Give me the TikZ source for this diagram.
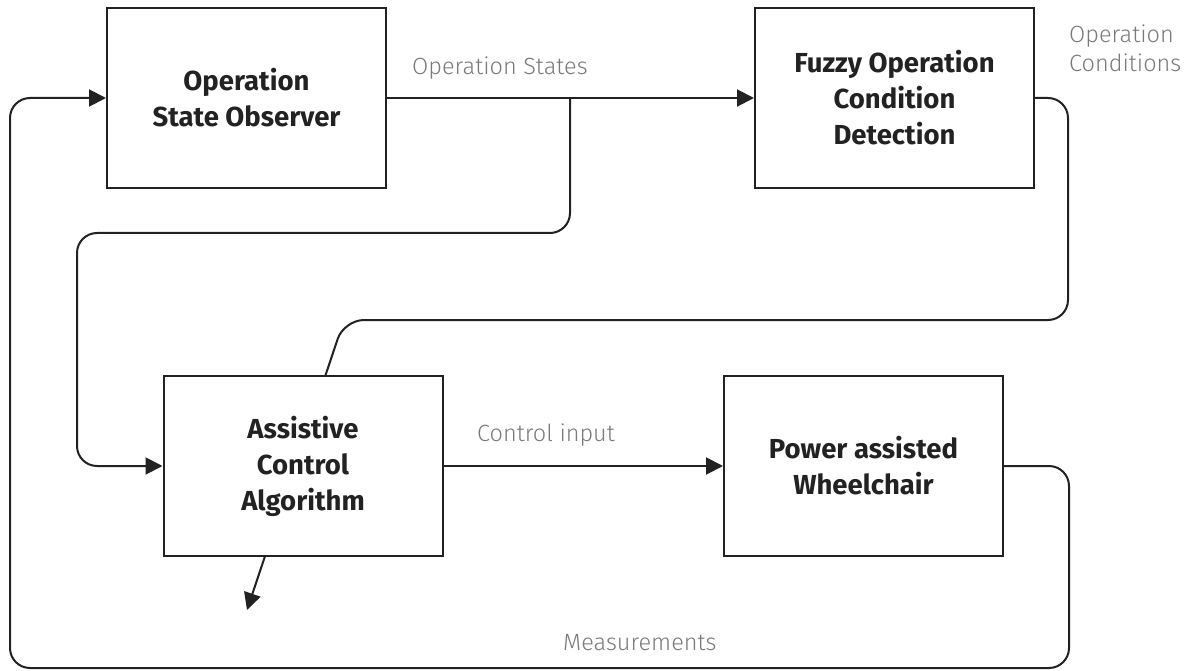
\documentclass[tikz,border=0pt]{standalone}
\usepackage{fontspec}
\setmainfont{Fira Sans}
\newfontfamily\labelfont{Fira Sans Light}
\usetikzlibrary{arrows.meta,backgrounds}
\definecolor{ink}{HTML}{222222}
\definecolor{labelgray}{HTML}{7a7a7a}
\tikzset{
  block/.style={draw=ink, line width=2pt, fill=white, minimum width=279pt,
    minimum height=180pt, inner sep=0pt, align=center, text=ink,
    font=\fontsize{27.5}{36}\selectfont\bfseries},
  conn/.style={draw=ink, line width=2pt, rounded corners=20pt},
  tip/.style={-{Triangle[length=17pt,width=17pt]}},
  sig/.style={text=labelgray, font=\labelfont\fontsize{23.5}{29}\selectfont, inner sep=0pt}
}
\begin{document}
\begin{tikzpicture}[x=1pt,y=-1pt]
\useasboundingbox (0,0) rectangle (1192,671);

% processing blocks
\node[block] (obs) at (246.5,98) {Operation\\State Observer};
\node[block] (fuz) at (894.5,98) {Fuzzy Operation\\Condition\\Detection};
\node[block] (acs) at (303,466) {Assistive\\Control\\Algorithm};
\node[block] (pwc) at (863.5,466) {Power assisted\\Wheelchair};

% branch points and free ends
\coordinate (split) at (570,98);
\coordinate (drop) at (247,610);

% signal labels
\node[sig, anchor=west] (lstates) at (412,68) {Operation States};
\node[sig, anchor=west, align=left] (lcond) at (1069,48) {Operation\\Conditions};
\node[sig, anchor=west] (lctrl) at (477,435) {Control input};
\node[sig, anchor=west] (lmeas) at (563,643) {Measurements};

\begin{scope}[on background layer]
  % observer to fuzzy detection
  \draw[conn, tip] (obs.east) -- (fuz.west);
  % states branch down to the control algorithm
  \draw[conn, tip] (split) -- (570,233) -- (77,233) -- (77,466) -- (acs.west);
  % operation conditions, passing under the control algorithm block
  \draw[conn, tip] (fuz.east) -- (1068,98) -- (1068,320) -- (344,320) -- (drop);
  % control input
  \draw[conn, tip] (acs.east) -- (pwc.west);
  % measurement feedback
  \draw[conn, tip] (pwc.east) -- (1069,466) -- (1069,668) -- (10,668) -- (10,98) -- (obs.west);
\end{scope}
\end{tikzpicture}
\end{document}
